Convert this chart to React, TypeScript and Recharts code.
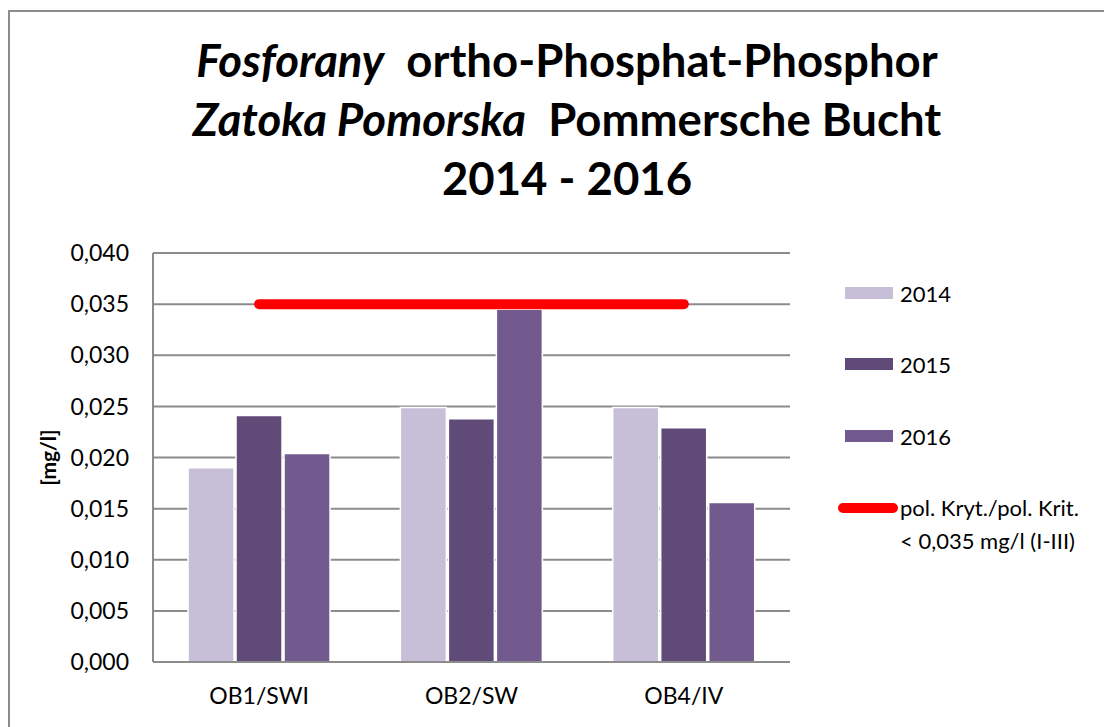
import { ComposedChart, Bar, Line, XAxis, YAxis, CartesianGrid } from 'recharts'

const stations = ['OB1/SWI', 'OB2/SW', 'OB4/IV']
const v2014 = [0.019, 0.0249, 0.0249]
const v2015 = [0.0241, 0.0238, 0.0229]
const v2016 = [0.0204, 0.0345, 0.0156]
const limit = [0.035, 0.035, 0.035]
const yTicks = [0, 0.005, 0.01, 0.015, 0.02, 0.025, 0.03, 0.035, 0.04]

const FONT = 'Lato, "Open Sans", sans-serif'
const GRID = '#8c8c8c'

const colors = { y2014: '#c6bfd7', y2015: '#5f4a78', y2016: '#72598e', limit: '#ff0000' }

const data = stations.map((name, i) => ({
  name,
  y2014: v2014[i],
  y2015: v2015[i],
  y2016: v2016[i],
  limit: limit[i],
}))

// legend drawn as plain html next to the plot
function LegendBox() {
  const rows = [
    { label: '2014', color: colors.y2014, top: 0 },
    { label: '2015', color: colors.y2015, top: 71 },
    { label: '2016', color: colors.y2016, top: 143 },
  ]
  return (
    <div style={{ position: 'absolute', left: 825, top: 269, width: 270, height: 300, fontFamily: FONT, fontSize: 22, color: '#000' }}>
      {rows.map(r => (
        <div key={r.label} style={{ position: 'absolute', left: 0, top: r.top, height: 24, display: 'flex', alignItems: 'center' }}>
          <div style={{ width: 48, height: 12, background: r.color, marginLeft: 10, marginRight: 7 }} />
          <span>{r.label}</span>
        </div>
      ))}
      <div style={{ position: 'absolute', left: 3, top: 214, display: 'flex', alignItems: 'flex-start' }}>
        <div style={{ width: 60, height: 10, borderRadius: 5, background: colors.limit, marginTop: 8, marginRight: 2 }} />
        <div style={{ lineHeight: '33px', marginTop: -4 }}>
          pol. Kryt./pol. Krit.<br />{'< 0,035 mg/l (I-III)'}
        </div>
      </div>
    </div>
  )
}

export default function App() {
  return (
    <div style={{ position: 'relative', width: 1110, height: 730, marginTop: 2, border: `2px solid ${GRID}`, background: '#fff' }}>
      <div style={{ position: 'absolute', left: 157, width: 800, top: 18, textAlign: 'center', fontFamily: FONT, fontWeight: 700, fontSize: 45.5, lineHeight: '59px', color: '#000' }}>
        <div><i>Fosforany</i>&nbsp; ortho-Phosphat-Phosphor</div>
        <div><i>Zatoka Pomorska</i>&nbsp; Pommersche Bucht</div>
        <div>2014 - 2016</div>
      </div>
      <div style={{ position: 'absolute', left: -13, top: 433, width: 100, textAlign: 'center', transform: 'rotate(-90deg)', fontFamily: FONT, fontWeight: 700, fontSize: 21 }}>
        [mg/l]
      </div>
      <ComposedChart
        width={1100}
        height={715}
        data={data}
        margin={{ top: 241, right: 320, bottom: 15, left: 0 }}
        barCategoryGap="16.5%"
        barGap={2}
        style={{ position: 'absolute', left: 0, top: 0 }}
      >
        <CartesianGrid vertical={false} stroke={GRID} strokeWidth={2} />
        <XAxis
          dataKey="name"
          height={50}
          axisLine={{ stroke: GRID, strokeWidth: 2 }}
          tickLine={false}
          tickSize={0}
          tickMargin={26}
          tick={{ fontFamily: FONT, fontSize: 23, fill: '#000' }}
        />
        <YAxis
          width={143}
          domain={[0, 0.04]}
          ticks={yTicks}
          interval={0}
          axisLine={{ stroke: GRID, strokeWidth: 2 }}
          tickLine={false}
          tickSize={0}
          tickMargin={24}
          tickFormatter={(v: number) => v.toFixed(3).replace('.', ',')}
          tick={{ fontFamily: FONT, fontSize: 23, fill: '#000' }}
        />
        <Bar dataKey="y2014" name="2014" fill={colors.y2014} stroke="#fff" strokeWidth={1.5} isAnimationActive={false} />
        <Bar dataKey="y2015" name="2015" fill={colors.y2015} stroke="#fff" strokeWidth={1.5} isAnimationActive={false} />
        <Bar dataKey="y2016" name="2016" fill={colors.y2016} stroke="#fff" strokeWidth={1.5} isAnimationActive={false} />
        <Line
          dataKey="limit"
          name="pol. Kryt./pol. Krit. < 0,035 mg/l (I-III)"
          stroke={colors.limit}
          strokeWidth={10}
          strokeLinecap="round"
          dot={false}
          activeDot={false}
          isAnimationActive={false}
        />
      </ComposedChart>
      <LegendBox />
    </div>
  )
}
